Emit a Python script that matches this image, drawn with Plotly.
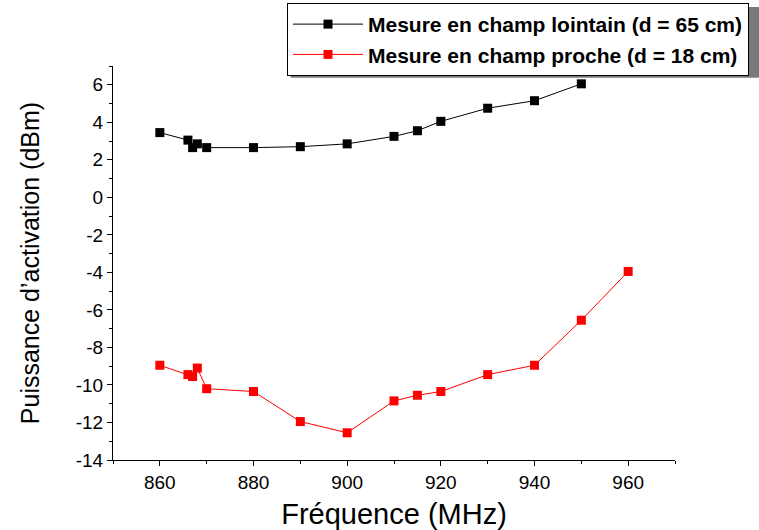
import plotly.graph_objects as go

freq_far = [860, 866, 867, 868, 870, 880, 890, 900, 910, 915, 920, 930, 940, 950]
power_far = [3.45, 3.05, 2.65, 2.85, 2.65, 2.65, 2.7, 2.85, 3.25, 3.55, 4.05, 4.75, 5.15, 6.05]

freq_near = [860, 866, 867, 868, 870, 880, 890, 900, 910, 915, 920, 930, 940, 950, 960]
power_near = [-8.95, -9.45, -9.55, -9.1, -10.2, -10.35, -11.95, -12.55, -10.85, -10.55, -10.35, -9.45, -8.95, -6.55, -3.95]

x_ticks = [860, 880, 900, 920, 940, 960]
y_ticks = [-14, -12, -10, -8, -6, -4, -2, 0, 2, 4, 6]
y_ticktext = ["-14", "-12", "-10", "-8", "-6", "-4", "-2", "0", "2", "4", "6"]

name_far = "Mesure en champ lointain (d = 65 cm)"
name_near = "Mesure en champ proche (d = 18 cm)"

fig = go.Figure()
fig.add_trace(go.Scatter(x=freq_far, y=power_far, name=name_far, mode="lines+markers",
                         line=dict(color="black", width=1),
                         marker=dict(symbol="square", size=9, color="black")))
fig.add_trace(go.Scatter(x=freq_near, y=power_near, name=name_near, mode="lines+markers",
                         line=dict(color="#ff0000", width=1),
                         marker=dict(symbol="square", size=9, color="#ff0000")))

# legend drop shadow
fig.add_shape(type="rect", xref="paper", yref="paper", x0=0.316, x1=1.2, y0=0.97, y1=1.15,
              fillcolor="#7a7a7a", line=dict(width=0), layer="above")

fig.update_layout(
    width=759, height=530,
    margin=dict(l=113, r=84, t=66, b=70, autoexpand=False),
    paper_bgcolor="white", plot_bgcolor="white",
    font=dict(family="Liberation Sans, Arial, sans-serif", color="black"),
    showlegend=True,
    legend=dict(x=0.3096, y=1.16, xanchor="left", yanchor="top",
                bgcolor="white", bordercolor="black", borderwidth=1,
                font=dict(size=21, family="Liberation Sans, Arial, sans-serif", weight="bold"),
                tracegroupgap=0, itemwidth=70),
    xaxis=dict(range=[850, 970], tickvals=x_ticks, showgrid=False, zeroline=False,
               showline=True, linecolor="black", linewidth=1, ticks="outside", ticklen=5,
               tickcolor="black", tickfont=dict(size=19),
               minor=dict(tickvals=[850, 870, 890, 910, 930, 950, 970], ticks="outside", ticklen=3, tickcolor="black"),
               title=dict(text="Fréquence (MHz)", font=dict(size=29), standoff=13)),
    yaxis=dict(range=[-14, 7], tickvals=y_ticks, ticktext=y_ticktext, showgrid=False, zeroline=False,
               showline=True, linecolor="black", linewidth=1, ticks="outside", ticklen=5,
               tickcolor="black", tickfont=dict(size=19),
               minor=dict(tickvals=list(range(-13, 8, 2)), ticks="outside", ticklen=3, tickcolor="black"),
               title=dict(text="Puissance d’activation (dBm)", font=dict(size=25), standoff=28)),
)

fig.write_html("out.html", config={"displayModeBar": False},
               post_script="document.body.style.margin='0';")
